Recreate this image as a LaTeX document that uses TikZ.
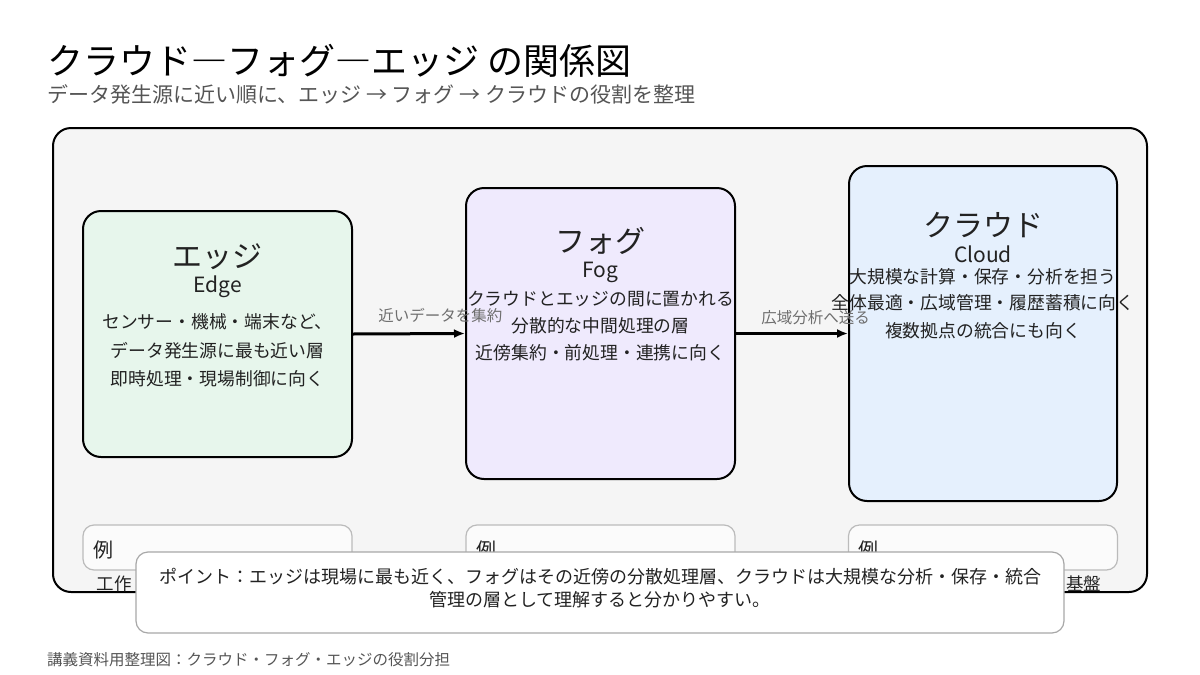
\documentclass[tikz,border=0pt]{standalone}
\usepackage{fontspec}
\setmainfont{Noto Sans CJK JP}
\usetikzlibrary{arrows.meta}

\definecolor{inkgray}{HTML}{222222}
\definecolor{subgray}{HTML}{555555}
\definecolor{panelbg}{HTML}{F5F5F5}
\definecolor{edgebg}{HTML}{E7F6EC}
\definecolor{fogbg}{HTML}{EFEAFD}
\definecolor{cloudbg}{HTML}{E5F0FD}
\definecolor{exline}{HTML}{BBBBBB}
\definecolor{pointline}{HTML}{A8A8A8}

\begin{document}
\begin{tikzpicture}[x=1pt, y=-1pt,
    layer/.style={draw=black, line width=2pt, rounded corners=18pt, inner sep=0pt},
    exbox/.style={draw=exline, fill=white!60!panelbg, line width=1.2pt, rounded corners=11pt, inner sep=0pt, minimum width=269pt, minimum height=45pt},
    flow/.style={draw=black, line width=3pt, -{Latex[length=11pt,width=9pt]}},
    flowlabel/.style={text=subgray!85, font=\fontsize{15.5}{18}\selectfont, anchor=south},
    headjp/.style={text=inkgray, font=\fontsize{30}{34}\selectfont},
    headen/.style={text=inkgray, font=\fontsize{21}{24}\selectfont},
    bodyline/.style={text=inkgray, font=\fontsize{17.8}{20}\selectfont}]
    \useasboundingbox (0,0) rectangle (1200,675);

    \node[anchor=base west, text=black, font=\fontsize{36}{40}\selectfont, inner sep=0pt] (title) at (47,74) {クラウド―フォグ―エッジ の関係図};
    \node[anchor=base west, text=subgray, font=\fontsize{21}{24}\selectfont, inner sep=0pt] (subtitle) at (47,102) {データ発生源に近い順に、エッジ → フォグ → クラウドの役割を整理};

    \node[layer, fill=panelbg, minimum width=1094pt, minimum height=464pt] (panel) at (600,360) {};

    \node[layer, fill=edgebg, minimum width=269pt, minimum height=246pt] (edge) at (217.5,334) {};
    \node[layer, fill=fogbg, minimum width=269pt, minimum height=291pt] (fog) at (600.5,333.5) {};
    \node[layer, fill=cloudbg, minimum width=268pt, minimum height=335pt] (cloud) at (983,333.5) {};

    \node[headjp] (edgejp) at (217.5,257) {エッジ};
    \node[headen] (edgeen) at (217.5,287) {Edge};
    \node[bodyline] (edge1) at (217.5,322) {センサー・機械・端末など、};
    \node[bodyline] (edge2) at (217.5,351) {データ発生源に最も近い層};
    \node[bodyline] (edge3) at (217.5,379) {即時処理・現場制御に向く};

    \node[headjp] (fogjp) at (600.5,241) {フォグ};
    \node[headen] (fogen) at (600.5,272) {Fog};
    \node[bodyline] (fog1) at (600.5,299) {クラウドとエッジの間に置かれる};
    \node[bodyline] (fog2) at (600.5,326) {分散的な中間処理の層};
    \node[bodyline] (fog3) at (600.5,353) {近傍集約・前処理・連携に向く};

    \node[headjp] (cloudjp) at (983,225) {クラウド};
    \node[headen] (clouden) at (983,254) {Cloud};
    \node[bodyline] (cloud1) at (983,277) {大規模な計算・保存・分析を担う};
    \node[bodyline] (cloud2) at (983,303) {全体最適・広域管理・履歴蓄積に向く};
    \node[bodyline] (cloud3) at (983,331) {複数拠点の統合にも向く};

    \draw[flow] (edge.east) -- (fog.west) node[flowlabel, pos=0.78, yshift=6pt] {近いデータを集約};
    \draw[flow] (fog.east) -- (cloud.west) node[flowlabel, pos=0.71, yshift=4pt] {広域分析へ送る};

    \node[exbox] (edgeex) at (217.5,547.5) {};
    \node[exbox] (fogex) at (600.5,547.5) {};
    \node[exbox] (cloudex) at (983,547.5) {};
    \node[anchor=west, text=inkgray, font=\fontsize{20}{22}\selectfont] (edgeexlbl) at (90,550) {例};
    \node[anchor=west, text=inkgray, font=\fontsize{20}{22}\selectfont] (fogexlbl) at (473,550) {例};
    \node[anchor=west, text=inkgray, font=\fontsize{20}{22}\selectfont] (cloudexlbl) at (855,550) {例};
    \node[anchor=west, text=inkgray, font=\fontsize{17.5}{20}\selectfont] (edgeexnote) at (93,584) {工作};
    \node[anchor=east, text=inkgray, font=\fontsize{17.5}{20}\selectfont] (cloudexnote) at (1105,584) {基盤};

    \node[draw=pointline, fill=white, line width=1.2pt, rounded corners=12pt, minimum width=928pt, minimum height=81pt] (point) at (600,592.5) {};
    \node[text=inkgray, align=center, font=\fontsize{18}{23}\selectfont] (pointtxt) at (600,588.5) {ポイント：エッジは現場に最も近く、フォグはその近傍の分散処理層、クラウドは大規模な分析・保存・統合\\管理の層として理解すると分かりやすい。};

    \node[anchor=base west, text=subgray, font=\fontsize{15.5}{18}\selectfont, inner sep=0pt] (footer) at (47,665) {講義資料用整理図：クラウド・フォグ・エッジの役割分担};
\end{tikzpicture}
\end{document}
